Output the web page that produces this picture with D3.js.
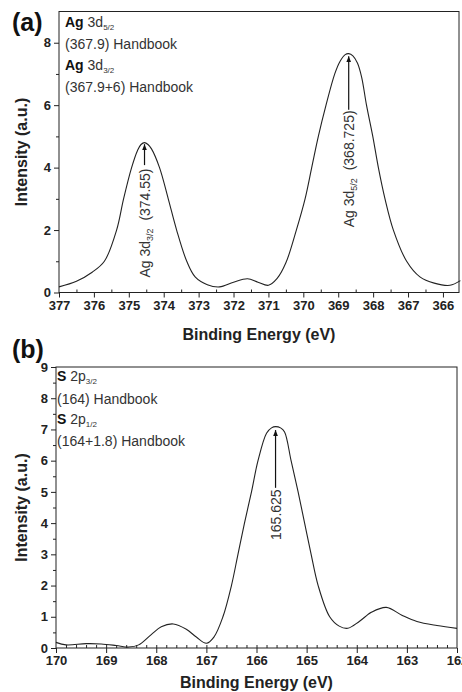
<!DOCTYPE html>
<meta charset="utf-8">
<style>
body { margin: 0; background: #fff; }
svg { display: block; font-family: "Liberation Sans", Arial, sans-serif; }
.tick text { font-size: 13px; font-weight: bold; fill: #222; }
.tick line { stroke: #222; }
.domain { display: none; }
.note { font-size: 14px; fill: #333; }
.title { font-size: 16px; font-weight: bold; fill: #222; }
</style>
<head>
  <script src="https://d3js.org/d3.v7.min.js"></script>
</head>
<svg width="462" height="692"></svg>
<script>

// panel (a): Ag 3d spectrum
var agEnergy = [377.0, 376.5, 376.05, 375.7, 375.35, 375.15, 374.92, 374.75, 374.65, 374.55,
  374.45, 374.35, 374.12, 373.87, 373.63, 373.34, 373.1, 372.75, 372.4, 372.0,
  371.6, 371.3, 371.0, 370.75, 370.5, 370.2, 369.95, 369.76, 369.57, 369.35,
  369.1, 368.95, 368.8, 368.7, 368.58, 368.45, 368.33, 368.19, 368.01, 367.85,
  367.66, 367.42, 367.04, 366.66, 366.25, 365.8, 365.5];
var agIntensity = [0.18, 0.36, 0.65, 1.0, 2.0, 3.0, 4.0, 4.55, 4.74, 4.8,
  4.74, 4.6, 4.0, 3.0, 2.0, 1.0, 0.5, 0.25, 0.18, 0.33,
  0.44, 0.33, 0.23, 0.45, 0.95, 2.0, 3.0, 4.0, 5.0, 6.0,
  7.0, 7.4, 7.62, 7.65, 7.58, 7.35, 6.9, 6.0, 5.0, 4.0,
  3.0, 2.0, 1.0, 0.5, 0.3, 0.23, 0.38];
var agXTicks = [377, 376, 375, 374, 373, 372, 371, 370, 369, 368, 367, 366];
var agYTicks = [0, 2, 4, 6, 8];

// panel (b): S 2p spectrum
var sEnergy = [170.0, 169.8, 169.4, 169.1, 168.8, 168.55, 168.35, 168.1, 167.9, 167.66,
  167.4, 167.2, 167.0, 166.85, 166.67, 166.5, 166.37, 166.24, 166.1, 165.97,
  165.8, 165.7, 165.62, 165.52, 165.44, 165.31, 165.17, 165.04, 164.91, 164.77,
  164.54, 164.35, 164.18, 163.95, 163.7, 163.41, 163.1, 162.8, 162.4, 162.0];
var sIntensity = [0.18, 0.1, 0.14, 0.13, 0.08, 0.03, 0.1, 0.43, 0.68, 0.77,
  0.6, 0.35, 0.15, 0.35, 1.0, 2.0, 3.0, 4.0, 5.0, 6.0,
  6.88, 7.05, 7.09, 7.05, 6.92, 6.0, 5.0, 4.0, 3.0, 2.0,
  1.0, 0.7, 0.63, 0.85, 1.15, 1.3, 1.05, 0.85, 0.72, 0.63];
var sXTicks = [170, 169, 168, 167, 166, 165, 164, 163, 162];
var sYTicks = [0, 1, 2, 3, 4, 5, 6, 7, 8, 9];

// peak arrows: x, arrow tip, arrow tail, text start (data units)
var agPeaks = [
  {x: 374.55, tip: 4.75, tail: 4.08, start: 0.48, name: "Ag 3d", sub: "3/2", val: "(374.55)"},
  {x: 368.7, tip: 7.57, tail: 5.85, start: 2.09, name: "Ag 3d", sub: "5/2", val: "(368.725)"}
];
var sPeaks = [
  {x: 165.62, tip: 6.98, tail: 5.13, start: 3.46, name: "", sub: "", val: "165.625"}
];

var svg = d3.select("svg");

svg.append("defs").append("marker")
    .attr("id", "head")
    .attr("viewBox", "0 0 10 10")
    .attr("refX", 10).attr("refY", 5)
    .attr("markerWidth", 5).attr("markerHeight", 5)
    .attr("orient", "auto")
  .append("path")
    .attr("d", "M0,1L10,5L0,9z")
    .attr("fill", "#111");

function drawPanel(o) {
  var x = d3.scaleLinear().domain(o.xDomain).range([o.left, o.right]),
      y = d3.scaleLinear().domain([0, 9]).range([o.bottom, o.top]);

  var g = svg.append("g");

  // minor ticks
  g.append("g")
      .attr("transform", "translate(0," + o.bottom + ")")
      .call(d3.axisBottom(x).tickValues(o.xMinor).tickSize(-3).tickFormat(""));
  g.append("g")
      .attr("transform", "translate(" + o.left + ",0)")
      .call(d3.axisLeft(y).tickValues(o.yMinor).tickSize(3).tickFormat(""));

  // major ticks
  g.append("g")
      .attr("transform", "translate(0," + o.bottom + ")")
      .call(d3.axisBottom(x).tickValues(o.xTicks).tickSize(5).tickPadding(3).tickFormat(d3.format("d")));
  g.append("g")
      .attr("transform", "translate(" + o.left + ",0)")
      .call(d3.axisLeft(y).tickValues(o.yTicks).tickSize(5).tickPadding(3).tickFormat(d3.format("d")));

  g.append("rect")
      .attr("x", o.left).attr("y", o.top)
      .attr("width", o.right - o.left).attr("height", o.bottom - o.top)
      .attr("fill", "none").attr("stroke", "#222").attr("stroke-width", 1);

  var line = d3.line()
      .x(function(d, i) { return x(o.energy[i]); })
      .y(function(d) { return y(d); })
      .curve(d3.curveCatmullRom);

  g.append("path")
      .datum(o.intensity)
      .attr("d", line)
      .attr("fill", "none")
      .attr("stroke", "#222")
      .attr("stroke-width", 1.1);

  o.peaks.forEach(function(p) {
    g.append("line")
        .attr("x1", x(p.x)).attr("x2", x(p.x))
        .attr("y1", y(p.tail)).attr("y2", y(p.tip))
        .attr("stroke", "#111").attr("stroke-width", 1.2)
        .attr("marker-end", "url(#head)");
    var t = g.append("text")
        .attr("class", "note")
        .attr("transform", "translate(" + (x(p.x) + 5) + "," + y(p.start) + ") rotate(-90)");
    if (p.name) {
      t.append("tspan").text(p.name);
      t.append("tspan").attr("font-size", 9).attr("dy", 3).text(p.sub);
      t.append("tspan").attr("dy", -3).text("\u00a0\u00a0" + p.val);
    } else {
      t.text(p.val);
    }
  });

  // notes in top-left corner
  o.notes.forEach(function(n, i) {
    var t = g.append("text").attr("class", "note")
        .attr("x", o.left + o.noteDx).attr("y", o.noteY[i]);
    if (n.bold) {
      t.append("tspan").attr("font-weight", "bold").attr("fill", "#111").text(n.bold);
      t.append("tspan").text(" " + n.text);
      t.append("tspan").attr("font-size", 8).attr("dy", 3).text(n.sub);
    } else {
      t.text(n.text);
    }
  });

  g.append("text")
      .attr("class", "title")
      .attr("x", (o.left + o.right) / 2).attr("y", o.xTitleY)
      .attr("text-anchor", "middle")
      .text("Binding Energy (eV)");

  g.append("text")
      .attr("class", "title")
      .attr("transform", "translate(27," + (o.top + o.bottom) / 2 + ") rotate(-90)")
      .attr("text-anchor", "middle")
      .text("Intensity (a.u.)");

  g.append("text")
      .attr("x", 12).attr("y", o.labelY)
      .attr("font-size", 25).attr("font-weight", "bold").attr("fill", "#111")
      .text(o.label);
}

drawPanel({
  label: "(a)", labelY: 31,
  left: 59, right: 459, top: 11.5, bottom: 292.5,
  xDomain: [377, 365.54],
  energy: agEnergy, intensity: agIntensity,
  xTicks: agXTicks, yTicks: agYTicks,
  xMinor: d3.range(376.5, 365.5, -1), yMinor: [1, 3, 5, 7],
  peaks: agPeaks,
  noteDx: 6, noteY: [27, 49, 70, 92],
  notes: [
    {bold: "Ag", text: "3d", sub: "5/2"},
    {text: "(367.9) Handbook"},
    {bold: "Ag", text: "3d", sub: "3/2"},
    {text: "(367.9+6) Handbook"}
  ],
  xTitleY: 340
});

drawPanel({
  label: "(b)", labelY: 358,
  left: 56, right: 457, top: 367, bottom: 648,
  xDomain: [170, 162],
  energy: sEnergy, intensity: sIntensity,
  xTicks: sXTicks, yTicks: sYTicks,
  xMinor: d3.range(169.8, 162.1, -0.2), yMinor: d3.range(0.5, 9, 1),
  peaks: sPeaks,
  noteDx: 1, noteY: [381, 404, 424, 446],
  notes: [
    {bold: "S", text: "2p", sub: "3/2"},
    {text: "(164) Handbook"},
    {bold: "S", text: "2p", sub: "1/2"},
    {text: "(164+1.8) Handbook"}
  ],
  xTitleY: 688
});

</script>
